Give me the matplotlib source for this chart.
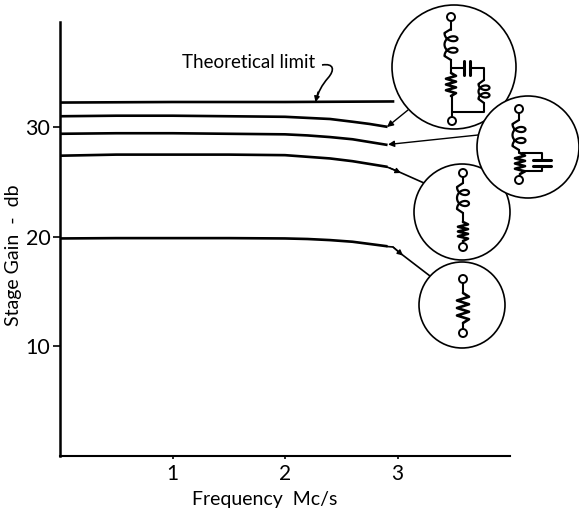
import numpy as np
import matplotlib
matplotlib.use("Agg")
import matplotlib.pyplot as plt
from matplotlib.patches import Circle, PathPatch
from matplotlib.path import Path

plt.rcParams["font.family"] = ["Lato", "DejaVu Sans"]

# curves (freq in Mc/s, gain in db)
freq = [0.0, 0.5, 1.0, 1.5, 2.0, 2.2, 2.4, 2.6, 2.75, 2.9]
limit_freq = [0.0, 1.0, 2.0, 2.96]
limit_gain = [32.25, 32.3, 32.3, 32.35]
gain_a = [31.0, 31.05, 31.05, 31.0, 30.95, 30.85, 30.75, 30.5, 30.3, 30.05]
gain_b = [29.4, 29.45, 29.45, 29.4, 29.35, 29.25, 29.1, 28.9, 28.65, 28.4]
gain_c = [27.4, 27.5, 27.5, 27.5, 27.45, 27.3, 27.15, 26.9, 26.65, 26.4]
gain_d = [19.85, 19.88, 19.88, 19.88, 19.85, 19.8, 19.7, 19.55, 19.35, 19.15]

x_ticks = [1, 2, 3]
y_ticks = [10, 20, 30]

W, H = 579, 512
LW = 1.5

fig = plt.figure(figsize=(W / 100, H / 100), dpi=100)
ax = fig.add_axes([60 / W, (H - 456) / H, 450 / W, 434 / H])
ax.set_xlim(0, 4.0)
ax.set_ylim(0, 39.6)
for s in ["top", "right"]:
    ax.spines[s].set_visible(False)
ax.spines["left"].set_linewidth(1.8)
ax.spines["bottom"].set_linewidth(1.5)
ax.set_xticks(x_ticks)
ax.set_yticks(y_ticks)
ax.tick_params(axis="x", direction="out", length=2, width=1.2, labelsize=15, pad=4)
ax.tick_params(axis="y", direction="out", length=5, width=1.2, labelsize=15.5, pad=2)

ax.plot(limit_freq, limit_gain, color="black", lw=1.9)
for g in [gain_a, gain_b, gain_c, gain_d]:
    ax.plot(freq, g, color="black", lw=1.9)

ax.set_xlabel("Frequency  Mc/s", fontsize=14)
ax.set_ylabel("Stage Gain  -  db", fontsize=14)
ax.yaxis.set_label_coords(-38 / 450, (456 - 255) / 434)
ax.xaxis.set_label_coords((265 - 60) / 450, -35 / 434)

# overlay in pixel coordinates for the circuit insets and leaders
ov = fig.add_axes([0, 0, 1, 1], zorder=5)
ov.set_xlim(0, W)
ov.set_ylim(H, 0)
ov.axis("off")
ov.patch.set_alpha(0)

ov.text(182, 62, "Theoretical limit", fontsize=13.5, va="center", ha="left")


def wire(xs, ys, lw=LW, z=6):
    ov.plot(xs, ys, color="black", lw=lw, zorder=z, solid_capstyle="round")


def term(x, y, z=6):
    ov.add_patch(Circle((x, y), 4, fc="white", ec="black", lw=1.4, zorder=z + 0.5))


def resistor(x, y0, y1, amp=5, n=4, z=6):
    ys = np.linspace(y0, y1, 2 * n + 1)
    xs = [x] + [x + amp * (-1) ** i for i in range(2 * n - 1)] + [x]
    wire(xs, ys, lw=1.9, z=z)


def coil(x, y0, y1, n=2, amp=13, r=5.0, z=6):
    t = np.linspace(0, 1, 200)
    ys = y0 + (y1 - y0) * t + r * np.sin(2 * np.pi * n * t)
    xs = x - amp / 2 + amp * (1 - np.cos(2 * np.pi * n * t)) / 2
    xs = np.r_[x, xs, x]
    ys = np.r_[y0 - 4, ys, y1 + 4]
    wire(xs, ys, lw=1.6, z=z)


def head(x0, y0, x1, y1, size=9):
    ov.annotate("", xy=(x1, y1), xytext=(x0, y0),
                arrowprops=dict(arrowstyle="-|>", color="black", lw=1.0, mutation_scale=size,
                                shrinkA=0, shrinkB=0), zorder=4)


# leaders
head(408, 110, 387, 127)
head(478, 135, 388, 144.5)
wire([387, 397, 424], [167, 171, 183], lw=1.2, z=3)
head(390, 168, 401, 173, size=8)
wire([387, 393, 400, 430], [246.5, 247, 253, 276], lw=1.2, z=3)
head(393, 247, 403, 255.5, size=8)
squiggle = Path([(322, 65), (334, 63), (335, 70), (328, 78), (322, 85), (318, 92), (316, 101)],
                [Path.MOVETO, Path.CURVE4, Path.CURVE4, Path.CURVE4, Path.CURVE4, Path.CURVE4, Path.CURVE4])
ov.add_patch(PathPatch(squiggle, fc="none", ec="black", lw=1.2))
head(318, 92, 315.5, 102, size=8)

# circles, last one on top
ov.add_patch(Circle((454, 67), 62, fc="white", ec="black", lw=1.2, zorder=5))
ov.add_patch(Circle((462, 212), 48, fc="white", ec="black", lw=1.2, zorder=5))
ov.add_patch(Circle((462, 305), 43, fc="white", ec="black", lw=1.2, zorder=5))
ov.add_patch(Circle((528, 147), 51, fc="white", ec="black", lw=1.2, zorder=7))

# series-peaked + shunt tuned
wire([451, 451], [17, 30])
coil(451, 33, 56)
wire([451, 451], [60, 73])
resistor(451, 73, 96)
wire([451, 452, 452], [96, 96, 121])
term(451, 17)
term(452, 121)
wire([451, 464], [68, 68])
wire([464, 464], [61, 75], lw=2.2)
wire([470, 470], [61, 75], lw=2.2)
wire([470, 484, 484], [68, 68, 80])
coil(484, 84, 99, amp=11, r=4.0)
wire([484, 484, 452], [103, 112, 112])

# series coil with shunt capacitor
wire([519, 519], [109, 120], z=8)
coil(519, 124, 146, z=8)
wire([519, 519], [150, 153], z=8)
resistor(520, 153, 174, z=8)
wire([522, 542, 542], [153, 153, 160], z=8)
wire([533, 551], [160, 160], lw=2.2, z=8)
wire([533, 551], [166, 166], lw=2.2, z=8)
wire([542, 542, 522], [166, 171, 171], z=8)
wire([520, 519], [174, 180], z=8)
term(519, 109, z=8)
term(519, 180, z=8)

# series coil
wire([463, 463], [173, 183])
coil(463, 187, 209, amp=12)
wire([463, 463], [213, 222])
resistor(463, 222, 241, amp=5)
wire([463, 463], [241, 247])
term(463, 173)
term(463, 247)

# plain resistor
wire([463, 463], [279, 293])
resistor(463, 293, 323, amp=6)
wire([463, 463], [323, 333])
term(463, 279)
term(463, 333)

fig.savefig("out.png", dpi=100)
